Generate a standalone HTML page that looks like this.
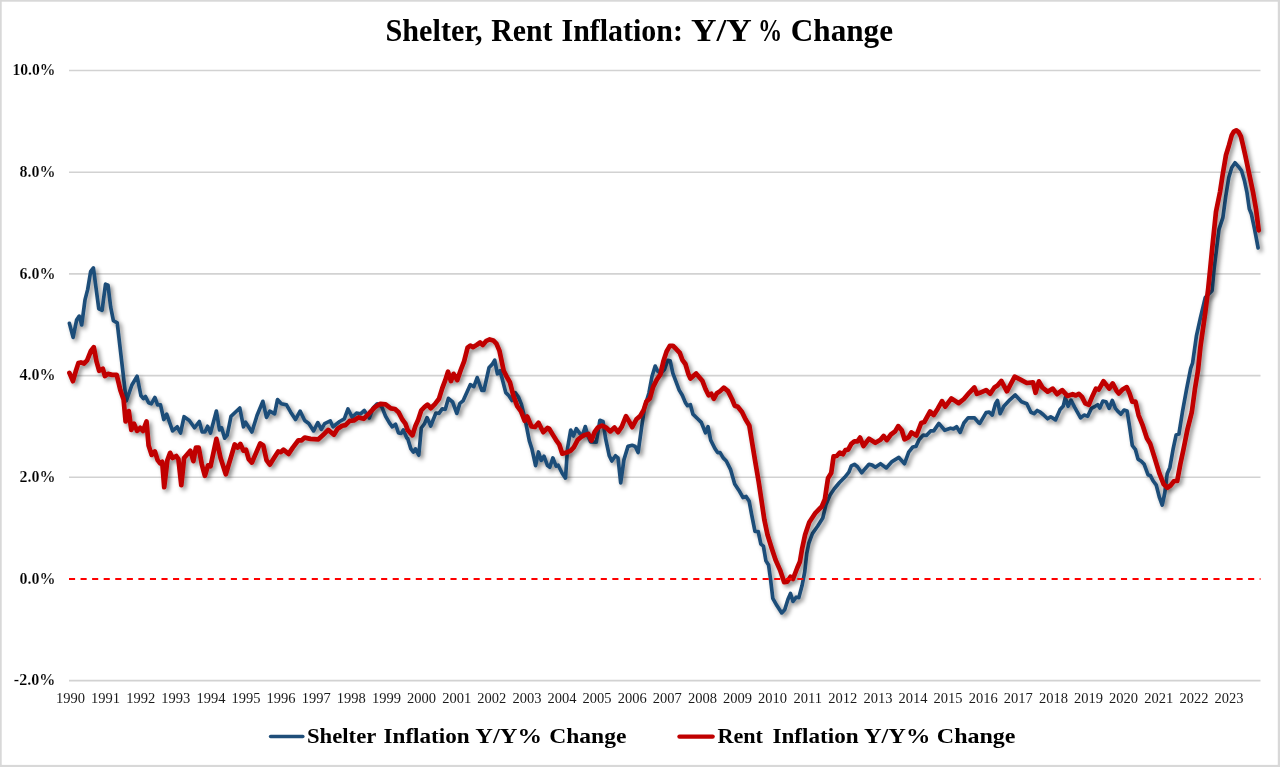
<!DOCTYPE html>
<html><head><meta charset="utf-8"><title>Shelter, Rent Inflation</title>
<style>
html,body{margin:0;padding:0;background:#fff;}
body{width:1280px;height:767px;overflow:hidden;}
svg{display:block;}
text{font-family:"Liberation Serif","DejaVu Serif",serif;fill:#000;}
.t{font-size:31px;font-weight:bold;}
.yl{font-size:17px;font-weight:bold;stroke:#fff;stroke-width:0.15px;}
.xl{font-size:14.5px;fill:#1a1a1a;}
.lg{font-size:22px;font-weight:bold;}
</style></head><body>
<svg width="1280" height="767" viewBox="0 0 1280 767">
<defs><filter id="sh" x="-5%" y="-5%" width="110%" height="110%"><feDropShadow dx="2.6" dy="2.6" stdDeviation="2" flood-color="#000" flood-opacity="0.45"/></filter></defs>
<rect x="0" y="0" width="1280" height="767" fill="#fff"/>
<rect x="0" y="0" width="1280" height="1.7" fill="#d8d8d8"/><rect x="0" y="0" width="1.7" height="767" fill="#d8d8d8"/><rect x="1277.8" y="0" width="2.2" height="767" fill="#d8d8d8"/><rect x="0" y="764.9" width="1280" height="2.1" fill="#d8d8d8"/>
<line x1="69.0" y1="70.5" x2="1260.5" y2="70.5" stroke="#d2d2d2" stroke-width="1.6"/>
<line x1="69.0" y1="172.2" x2="1260.5" y2="172.2" stroke="#d2d2d2" stroke-width="1.6"/>
<line x1="69.0" y1="273.9" x2="1260.5" y2="273.9" stroke="#d2d2d2" stroke-width="1.6"/>
<line x1="69.0" y1="375.6" x2="1260.5" y2="375.6" stroke="#d2d2d2" stroke-width="1.6"/>
<line x1="69.0" y1="477.3" x2="1260.5" y2="477.3" stroke="#d2d2d2" stroke-width="1.6"/>
<line x1="69.0" y1="680.6" x2="1260.5" y2="680.6" stroke="#d2d2d2" stroke-width="1.6"/>
<text class="t" y="41.0"><tspan x="385.5" textLength="97.1" lengthAdjust="spacingAndGlyphs">Shelter,</tspan> <tspan x="491.2" textLength="61.2" lengthAdjust="spacingAndGlyphs">Rent</tspan> <tspan x="561.5" textLength="121.4" lengthAdjust="spacingAndGlyphs">Inflation:</tspan> <tspan x="691.0" textLength="59.5" lengthAdjust="spacingAndGlyphs">Y/Y</tspan> <tspan x="758.0" textLength="24.2" lengthAdjust="spacingAndGlyphs">%</tspan> <tspan x="790.8" textLength="102.2" lengthAdjust="spacingAndGlyphs">Change</tspan></text>
<text class="yl" x="12.4" y="75.1" textLength="43.0" lengthAdjust="spacingAndGlyphs">10.0%</text>
<text class="yl" x="19.4" y="176.8" textLength="36.0" lengthAdjust="spacingAndGlyphs">8.0%</text>
<text class="yl" x="19.4" y="278.5" textLength="36.0" lengthAdjust="spacingAndGlyphs">6.0%</text>
<text class="yl" x="19.4" y="380.2" textLength="36.0" lengthAdjust="spacingAndGlyphs">4.0%</text>
<text class="yl" x="19.4" y="481.9" textLength="36.0" lengthAdjust="spacingAndGlyphs">2.0%</text>
<text class="yl" x="19.4" y="583.5" textLength="36.0" lengthAdjust="spacingAndGlyphs">0.0%</text>
<text class="yl" x="13.8" y="685.2" textLength="41.6" lengthAdjust="spacingAndGlyphs">-2.0%</text>
<text class="xl" x="70.5" y="702.8" text-anchor="middle">1990</text>
<text class="xl" x="105.6" y="702.8" text-anchor="middle">1991</text>
<text class="xl" x="140.7" y="702.8" text-anchor="middle">1992</text>
<text class="xl" x="175.8" y="702.8" text-anchor="middle">1993</text>
<text class="xl" x="210.9" y="702.8" text-anchor="middle">1994</text>
<text class="xl" x="246.0" y="702.8" text-anchor="middle">1995</text>
<text class="xl" x="281.1" y="702.8" text-anchor="middle">1996</text>
<text class="xl" x="316.2" y="702.8" text-anchor="middle">1997</text>
<text class="xl" x="351.3" y="702.8" text-anchor="middle">1998</text>
<text class="xl" x="386.4" y="702.8" text-anchor="middle">1999</text>
<text class="xl" x="421.5" y="702.8" text-anchor="middle">2000</text>
<text class="xl" x="456.7" y="702.8" text-anchor="middle">2001</text>
<text class="xl" x="491.8" y="702.8" text-anchor="middle">2002</text>
<text class="xl" x="526.9" y="702.8" text-anchor="middle">2003</text>
<text class="xl" x="562.0" y="702.8" text-anchor="middle">2004</text>
<text class="xl" x="597.1" y="702.8" text-anchor="middle">2005</text>
<text class="xl" x="632.2" y="702.8" text-anchor="middle">2006</text>
<text class="xl" x="667.3" y="702.8" text-anchor="middle">2007</text>
<text class="xl" x="702.4" y="702.8" text-anchor="middle">2008</text>
<text class="xl" x="737.5" y="702.8" text-anchor="middle">2009</text>
<text class="xl" x="772.6" y="702.8" text-anchor="middle">2010</text>
<text class="xl" x="807.7" y="702.8" text-anchor="middle">2011</text>
<text class="xl" x="842.8" y="702.8" text-anchor="middle">2012</text>
<text class="xl" x="877.9" y="702.8" text-anchor="middle">2013</text>
<text class="xl" x="913.0" y="702.8" text-anchor="middle">2014</text>
<text class="xl" x="948.1" y="702.8" text-anchor="middle">2015</text>
<text class="xl" x="983.2" y="702.8" text-anchor="middle">2016</text>
<text class="xl" x="1018.3" y="702.8" text-anchor="middle">2017</text>
<text class="xl" x="1053.4" y="702.8" text-anchor="middle">2018</text>
<text class="xl" x="1088.5" y="702.8" text-anchor="middle">2019</text>
<text class="xl" x="1123.6" y="702.8" text-anchor="middle">2020</text>
<text class="xl" x="1158.8" y="702.8" text-anchor="middle">2021</text>
<text class="xl" x="1193.9" y="702.8" text-anchor="middle">2022</text>
<text class="xl" x="1229.0" y="702.8" text-anchor="middle">2023</text>
<g filter="url(#sh)"><polyline points="69.4,323.4 73.1,337.4 76.7,319.7 79.2,316.1 81.7,324.9 85.0,299.9 87.7,289.4 90.7,271.3 93.4,267.9 98.8,308.8 102.1,310.3 105.5,284.2 108.0,285.2 110.7,307.2 113.4,320.7 117.2,322.8 126.3,401.0 131.9,385.0 137.1,376.3 140.9,395.5 143.4,398.6 145.5,396.5 148.6,402.8 151.3,403.8 154.9,397.5 157.6,404.9 160.5,404.9 163.8,419.5 166.7,414.2 172.6,430.9 177.2,426.8 180.5,433.0 184.1,416.7 189.3,420.5 194.5,427.8 199.3,421.5 202.2,432.0 204.9,432.0 207.6,426.3 210.5,433.0 216.4,411.1 219.5,429.9 221.6,427.8 224.7,438.2 227.2,435.1 231.0,416.3 239.8,408.0 243.5,426.8 245.6,422.2 251.9,432.0 257.1,415.3 262.9,401.3 266.5,417.4 269.8,411.1 274.6,413.8 277.5,399.6 281.3,403.8 286.5,404.9 290.7,412.2 295.5,419.5 300.1,411.1 304.7,420.5 308.8,423.6 313.6,430.9 317.8,422.6 321.3,429.3 324.7,423.6 330.3,420.9 333.0,426.8 339.7,421.5 344.3,418.8 348.0,409.0 352.2,417.4 356.4,413.2 360.6,413.8 364.3,410.5 369.3,418.0 373.1,408.0 377.2,403.8 381.8,406.9 385.6,416.3 389.3,422.6 392.3,426.8 395.6,424.3 398.5,433.0 401.2,433.4 403.3,429.9 406.9,438.2 407.7,438.5 410.9,448.9 413.4,452.0 415.4,448.9 418.8,455.2 421.3,428.0 424.4,423.9 427.1,417.6 430.7,426.0 435.9,413.0 439.0,413.4 442.2,408.9 445.3,409.3 448.4,398.4 452.6,402.0 456.8,413.4 459.9,403.4 463.0,400.9 470.3,384.7 473.9,386.7 477.2,377.6 481.8,390.5 483.9,390.5 489.1,367.5 492.2,364.4 494.7,360.2 497.4,373.8 500.1,370.7 505.8,392.6 508.9,395.7 512.0,400.5 515.2,392.6 518.3,396.8 521.4,404.1 525.6,421.8 529.3,440.6 531.9,448.9 535.6,465.6 538.5,452.0 541.2,460.4 544.0,456.2 547.5,465.6 549.8,467.2 552.9,457.9 556.1,466.2 558.2,465.2 562.3,473.5 565.5,478.1 567.5,448.5 570.7,430.1 573.4,436.0 576.3,428.7 580.1,433.9 582.6,434.9 585.3,426.6 588.0,436.0 590.5,441.8 596.3,442.2 599.9,420.3 603.0,421.4 605.5,438.0 609.3,455.8 611.8,461.0 615.5,455.8 618.0,457.9 620.7,482.9 623.9,459.9 628.0,446.4 632.2,445.3 635.3,446.4 638.1,452.6 641.6,427.6 644.7,406.8 648.9,393.2 652.0,376.5 655.2,366.1 657.7,371.3 661.0,373.4 664.6,369.2 667.7,360.4 670.2,360.9 672.9,373.4 676.0,381.7 679.2,390.1 682.3,395.3 685.4,402.6 687.5,405.7 690.4,404.7 692.9,414.1 697.1,418.2 701.3,422.4 705.5,432.8 708.0,426.6 710.7,440.1 714.9,448.5 717.6,452.6 720.1,452.6 723.2,457.9 726.3,461.0 730.5,469.3 734.7,483.9 738.8,490.2 743.0,497.5 746.1,496.5 749.2,501.3 751.9,515.9 755.0,531.5 758.2,531.5 760.9,544.1 763.4,546.1 765.9,560.7 768.6,564.9 770.7,580.6 772.8,598.3 776.9,605.6 781.7,612.9 784.7,609.8 788.0,599.3 790.5,593.5 793.0,601.4 796.3,597.2 798.8,597.7 802.0,585.8 804.7,572.2 806.8,553.4 808.9,543.0 812.4,533.6 817.6,526.3 822.8,518.0 826.0,504.4 830.1,495.0 834.3,488.8 839.5,482.5 844.7,477.3 848.9,472.1 851.3,465.8 854.4,464.3 857.5,466.8 861.7,472.7 864.9,468.9 869.0,464.3 872.2,465.1 875.3,467.2 880.5,463.7 886.3,467.9 892.0,461.6 898.9,457.4 904.5,463.7 908.7,452.2 912.8,447.0 916.0,446.4 919.1,439.7 923.3,435.1 926.4,435.5 930.6,430.9 933.7,430.9 938.9,423.4 944.7,430.3 950.4,428.2 953.5,428.9 956.6,426.8 960.2,432.4 963.9,423.0 968.1,417.8 974.4,417.8 978.5,422.6 979.8,423.4 986.1,412.6 989.2,412.2 992.3,415.1 995.5,403.8 997.5,400.5 1000.1,413.6 1003.8,406.3 1010.1,399.6 1015.3,394.9 1021.5,401.7 1026.8,403.8 1030.9,412.2 1034.1,413.6 1037.2,410.5 1040.3,412.2 1043.4,414.7 1047.6,418.8 1050.7,416.8 1055.5,419.9 1060.1,409.5 1063.3,405.9 1065.3,397.6 1068.1,406.3 1071.0,400.1 1074.7,407.4 1080.6,417.8 1084.1,415.1 1087.7,416.3 1091.4,408.4 1095.2,406.3 1097.7,404.7 1099.8,408.0 1102.9,401.1 1106.0,401.7 1109.2,408.4 1112.3,400.5 1115.4,408.4 1117.7,411.1 1120.9,414.2 1124.0,410.1 1127.1,411.1 1129.6,426.8 1132.3,445.5 1135.5,449.7 1138.0,459.1 1141.3,461.2 1144.2,464.3 1148.0,474.7 1150.5,475.8 1153.2,481.0 1156.3,485.2 1159.5,497.7 1162.2,505.0 1164.7,493.5 1167.2,473.7 1169.9,467.4 1173.0,449.7 1176.1,435.1 1178.9,434.1 1182.4,412.2 1186.6,389.2 1190.7,368.3 1192.6,363.0 1196.5,335.6 1200.4,318.0 1205.3,297.5 1212.1,290.6 1214.1,269.1 1217.0,245.6 1219.0,229.3 1222.9,217.6 1225.8,196.0 1228.8,177.5 1231.7,167.7 1235.0,162.8 1238.5,166.7 1241.5,170.6 1244.4,180.4 1246.9,192.1 1249.3,208.8 1251.3,213.7 1254.2,227.3 1256.1,237.1 1258.1,247.9" fill="none" stroke="#1f4e79" stroke-width="3.7" stroke-linejoin="round" stroke-linecap="round"/></g>
<g filter="url(#sh)"><polyline points="69.4,372.9 72.9,381.2 75.6,371.8 78.4,363.1 80.9,362.4 84.0,363.5 87.1,360.3 90.9,351.0 93.8,347.2 96.5,361.4 99.2,370.8 102.8,368.7 104.9,376.0 108.0,373.9 112.2,374.9 116.7,374.9 120.5,390.6 123.6,399.6 125.6,421.5 128.8,411.1 131.3,429.9 134.0,423.6 137.1,430.9 140.2,427.8 143.0,430.9 146.5,421.5 148.6,445.5 151.7,454.9 154.9,451.4 157.6,460.1 160.1,463.3 162.2,461.8 164.2,487.2 167.4,460.1 170.1,452.8 172.6,458.0 176.3,456.0 178.4,459.1 181.3,485.2 184.1,458.0 190.3,450.7 193.4,461.2 195.9,447.6 198.7,447.6 201.8,464.3 204.9,475.8 208.0,465.3 210.5,466.4 216.4,438.9 220.6,458.0 225.8,474.3 231.0,457.0 234.7,444.5 237.7,447.6 240.4,443.9 243.5,450.7 246.0,449.7 248.7,459.1 251.9,462.6 260.2,443.4 263.3,445.5 266.5,460.1 269.8,464.7 274.0,458.0 278.2,451.4 280.9,452.2 283.4,449.7 288.6,453.9 292.8,447.6 298.4,440.3 301.7,440.3 304.7,437.6 310.5,438.9 318.4,439.3 323.0,435.1 328.2,429.9 333.9,434.7 337.6,428.8 342.2,425.7 345.5,425.1 349.7,420.9 353.9,420.5 358.5,417.4 363.7,418.8 369.3,413.2 375.2,406.9 380.4,403.8 385.6,404.4 390.8,408.4 395.0,409.0 398.5,412.2 402.3,419.5 405.4,423.6 407.7,430.1 412.5,435.3 415.4,426.0 418.2,419.7 421.3,410.3 424.4,407.2 427.5,404.7 430.7,408.2 434.9,404.1 439.0,398.8 442.2,388.4 445.3,380.1 448.0,371.7 450.9,381.1 453.6,373.8 457.2,380.1 460.9,369.6 464.1,361.3 467.6,347.7 470.3,345.6 473.0,347.1 476.6,345.0 480.1,342.5 482.8,345.0 486.4,340.8 489.7,339.4 493.3,340.4 496.4,343.6 499.5,350.9 503.7,370.7 506.8,376.9 509.9,382.2 513.1,394.7 517.2,406.1 521.0,411.4 524.6,420.7 527.3,416.6 531.4,426.4 535.0,427.0 538.5,422.8 543.3,432.2 547.5,428.0 549.2,428.7 552.9,434.9 556.1,440.1 559.2,444.3 562.3,453.7 566.5,452.6 570.7,450.6 573.8,447.4 577.6,440.1 581.1,437.0 584.7,434.9 588.4,433.9 591.5,440.5 594.7,431.8 597.8,427.6 602.0,425.5 606.1,427.6 610.3,431.4 614.5,427.6 618.0,432.2 621.8,426.6 626.0,416.1 629.1,421.4 632.2,427.2 636.4,419.3 640.1,416.1 643.7,409.9 646.4,401.5 649.9,398.4 653.1,386.9 656.8,379.6 660.4,374.4 663.5,360.9 666.6,351.5 669.8,345.8 672.9,345.8 676.0,348.8 679.8,352.9 682.3,359.8 685.4,364.0 688.5,374.4 690.4,378.6 696.1,373.4 702.3,380.7 705.5,389.0 708.6,395.3 711.3,393.8 713.8,398.8 716.9,393.2 720.1,391.1 723.8,387.6 728.0,391.1 732.2,399.5 734.7,405.7 737.8,406.8 742.0,412.0 745.5,419.3 749.3,425.5 752.4,444.3 755.5,463.1 758.7,481.9 761.3,499.2 764.4,520.1 767.5,534.7 771.7,548.2 775.5,559.7 780.1,570.1 784.2,582.2 787.4,581.6 790.5,576.8 793.0,578.9 797.2,568.0 799.9,561.8 802.0,549.3 805.1,534.7 809.3,522.2 815.5,512.8 821.8,506.5 824.9,499.2 826.4,488.8 828.0,478.3 831.2,473.1 833.6,456.4 836.7,456.0 839.8,452.6 842.9,454.3 845.4,450.1 848.2,449.7 851.3,443.9 854.4,441.4 857.5,441.4 860.1,437.6 863.4,446.0 869.0,438.7 875.3,442.8 880.5,439.7 883.6,435.9 886.8,440.1 890.9,434.5 895.1,431.4 898.2,426.1 901.8,430.3 904.5,439.3 908.7,437.2 911.4,432.4 916.4,435.5 921.2,423.0 924.3,422.0 930.1,411.5 933.7,415.1 937.9,408.4 942.0,401.1 945.2,406.7 951.4,398.4 958.7,403.2 963.9,399.0 969.2,392.8 974.4,387.5 976.9,393.8 979.8,392.8 986.1,390.1 990.2,393.8 994.4,387.5 997.5,385.5 1001.3,380.9 1006.9,391.3 1011.1,383.4 1014.7,376.7 1020.5,379.6 1026.8,383.0 1033.0,382.3 1035.5,392.8 1038.9,381.3 1042.4,387.5 1047.6,391.7 1052.8,388.6 1057.0,394.2 1062.2,390.1 1067.4,395.9 1072.6,394.2 1075.8,395.5 1078.9,393.8 1082.0,396.9 1085.2,403.2 1088.9,404.7 1092.5,395.9 1096.0,388.6 1098.7,389.6 1103.5,381.3 1106.0,384.4 1109.2,388.6 1112.7,383.4 1116.5,390.7 1118.8,393.4 1122.9,389.2 1126.7,387.1 1129.6,393.4 1132.3,401.7 1135.5,401.7 1138.6,415.3 1142.8,425.7 1146.9,438.2 1150.1,443.4 1154.7,458.0 1159.5,473.7 1163.6,484.1 1167.2,487.7 1170.9,485.2 1174.1,481.0 1177.2,481.0 1180.3,464.3 1183.4,449.7 1187.6,428.8 1191.8,412.2 1194.9,389.2 1198.0,370.4 1200.4,347.3 1205.3,312.1 1208.2,288.7 1210.2,269.1 1212.1,249.6 1216.0,211.7 1220.0,192.1 1222.7,174.5 1226.0,155.0 1229.0,145.2 1231.7,135.4 1233.8,131.5 1236.2,130.3 1238.5,131.9 1240.9,136.4 1243.0,145.2 1245.2,155.0 1249.3,174.5 1253.2,193.1 1256.1,209.7 1258.7,230.3" fill="none" stroke="#c00000" stroke-width="4.7" stroke-linejoin="round" stroke-linecap="round"/></g>
<line x1="69.0" y1="578.9" x2="1260.5" y2="578.9" stroke="#ff0000" stroke-width="2" stroke-dasharray="6.1 5.46"/>
<line x1="270.6" y1="736.5" x2="302.8" y2="736.5" stroke="#1f4e79" stroke-width="3.6" stroke-linecap="round"/>
<text class="lg" y="743.4"><tspan x="307.0" textLength="68.9" lengthAdjust="spacingAndGlyphs">Shelter</tspan> <tspan x="383.5" textLength="86.2" lengthAdjust="spacingAndGlyphs">Inflation</tspan> <tspan x="475.2" textLength="66.7" lengthAdjust="spacingAndGlyphs">Y/Y%</tspan> <tspan x="549.3" textLength="77.1" lengthAdjust="spacingAndGlyphs">Change</tspan></text>
<line x1="679.5" y1="736.6" x2="712.6" y2="736.6" stroke="#c00000" stroke-width="4.4" stroke-linecap="round"/>
<text class="lg" y="743.4"><tspan x="717.5" textLength="45.5" lengthAdjust="spacingAndGlyphs">Rent</tspan> <tspan x="772.4" textLength="86.2" lengthAdjust="spacingAndGlyphs">Inflation</tspan> <tspan x="863.9" textLength="66.4" lengthAdjust="spacingAndGlyphs">Y/Y%</tspan> <tspan x="936.8" textLength="78.7" lengthAdjust="spacingAndGlyphs">Change</tspan></text>
</svg>
</body></html>
